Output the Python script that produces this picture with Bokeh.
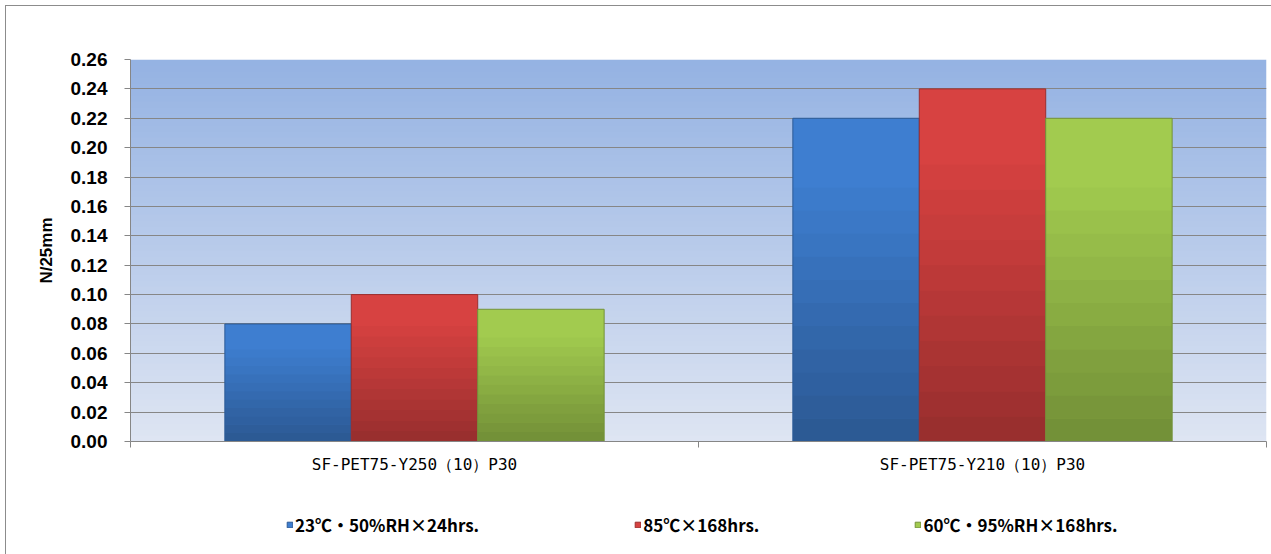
import numpy as np
from bokeh.plotting import figure
from bokeh.layouts import column
from bokeh.models import (ColumnDataSource, Range1d, FixedTicker, Legend, LegendItem,
                          CustomJSTickFormatter, NumeralTickFormatter)
from bokeh.transform import dodge
from bokeh.embed import file_html
from bokeh.resources import INLINE

categories = ["SF-PET75-Y250（10）P30", "SF-PET75-Y210（10）P30"]
series_names = ["23℃・50%RH×24hrs.", "85℃×168hrs.", "60℃・95%RH×168hrs."]
cond_23_50 = [0.08, 0.22]
cond_85 = [0.10, 0.24]
cond_60_95 = [0.09, 0.22]
series_values = [cond_23_50, cond_85, cond_60_95]
series_colors = ["#3e7ed0", "#d74241", "#a2cb4f"]
series_lines = ["#2d5a96", "#9c2f2f", "#74923a"]
y_ticks = [round(0.02 * i, 2) for i in range(14)]

W, H_MAIN, H_LEG = 1265, 484, 64
p = figure(width=W, height=H_MAIN, output_backend="svg", toolbar_location=None,
           x_range=Range1d(0, len(categories)), y_range=Range1d(0, 0.26),
           min_border_left=124, min_border_right=5, min_border_top=53, min_border_bottom=49)
p.outline_line_color = None
p.background_fill_color = "#ffffff"

# plot-area gradient background
n = 64
t = np.linspace(0, 1, n)
bot = np.array([222, 229, 243])
top = np.array([149, 179, 227])
img = np.empty((n, 1), dtype=np.uint32)
view = img.view(dtype=np.uint8).reshape((n, 1, 4))
for k in range(n):
    c = bot + (top - bot) * t[k]
    view[k, 0, 0:3] = c.astype(np.uint8)
    view[k, 0, 3] = 255
p.image_rgba(image=[img], x=0, y=0, dw=len(categories), dh=0.26, level="image")

# bars
xc = [i + 0.5 for i in range(len(categories))]
bw = 0.2226
NSEG = 14
for j, (name, vals) in enumerate(zip(series_names, series_values)):
    src = ColumnDataSource(dict(x=xc, top=vals))
    xs = dodge("x", (j - 1) * bw, range=p.x_range)
    p.vbar(x=xs, top="top", bottom=0, width=bw, source=src,
           fill_color=series_colors[j], line_color=None)
    # shading toward the bottom of each bar (derived from the bar's value)
    sx, sb, st, sa = [], [], [], []
    for xi, v in zip(xc, vals):
        for k in range(NSEG):
            frac = (k + 0.5) / NSEG
            a = 0.30 * max(0.0, 1 - frac / 0.8)
            sx.append(xi)
            sb.append(v * k / NSEG)
            st.append(v * (k + 1) / NSEG)
            sa.append(a)
    shade = ColumnDataSource(dict(x=sx, bottom=sb, top=st, alpha=sa))
    p.vbar(x=dodge("x", (j - 1) * bw, range=p.x_range), top="top", bottom="bottom",
           width=bw, source=shade, fill_color="#000000", fill_alpha="alpha", line_color=None)
    p.vbar(x=xs, top="top", bottom=0, width=bw, source=src,
           fill_color=None, line_color=series_lines[j], line_width=1)

# y axis
yax = p.yaxis[0]
yax.ticker = FixedTicker(ticks=y_ticks)
yax.formatter = NumeralTickFormatter(format="0.00")
yax.axis_line_color = "#868686"
yax.major_tick_line_color = "#868686"
yax.major_tick_out = 6
yax.major_tick_in = 0
yax.minor_tick_line_color = None
yax.major_label_text_font = "Liberation Sans"
yax.major_label_text_font_style = "bold"
yax.major_label_text_font_size = "19px"
yax.major_label_text_color = "#000000"
yax.major_label_standoff = 17
yax.axis_label = "N/25mm"
yax.axis_label_text_font = "Liberation Sans"
yax.axis_label_text_font_style = "bold"
yax.axis_label_text_font_size = "17px"
yax.axis_label_text_color = "#000000"
yax.axis_label_standoff = 12

# x axis
xax = p.xaxis[0]
xax.ticker = FixedTicker(ticks=xc, minor_ticks=list(range(len(categories) + 1)))
xax.formatter = CustomJSTickFormatter(args=dict(labels=categories),
                                      code="return labels[Math.floor(tick)];")
xax.axis_line_color = "#868686"
xax.major_tick_line_color = None
xax.major_tick_out = 0
xax.major_tick_in = 0
xax.minor_tick_line_color = "#868686"
xax.minor_tick_out = 6
xax.minor_tick_in = 0
xax.major_label_text_font = "DejaVu Sans Mono"
xax.major_label_text_font_size = "16px"
xax.major_label_text_color = "#000000"
xax.major_label_standoff = 7

# grid
p.xgrid.grid_line_color = None
p.ygrid.ticker = FixedTicker(ticks=y_ticks)
p.ygrid.grid_line_color = "#868686"
p.ygrid.grid_line_width = 1

# legend strip below the chart
lg = figure(width=W, height=H_LEG, output_backend="svg", toolbar_location=None,
            x_range=Range1d(0, 1), y_range=Range1d(0, 1),
            x_axis_location=None, y_axis_location=None,
            min_border_left=0, min_border_right=0, min_border_top=0, min_border_bottom=0)
lg.outline_line_color = None
lg.xgrid.grid_line_color = None
lg.ygrid.grid_line_color = None
items = []
for j, name in enumerate(series_names):
    r = lg.vbar(x=[np.nan], top=[np.nan], width=0.1, fill_color=series_colors[j],
                line_color=series_lines[j])
    items.append(LegendItem(label=name, renderers=[r]))
legend = Legend(items=items, orientation="horizontal", location=(156, 17),
                glyph_width=7, glyph_height=7, label_standoff=2, spacing=155,
                label_text_font="Noto Sans CJK JP", label_text_font_style="bold",
                label_text_font_size="17px", label_text_color="#000000",
                background_fill_alpha=0, border_line_color=None, margin=0, padding=0)
lg.add_layout(legend, "center")

layout = column(p, lg, spacing=0,
                styles={"border-left": "1px solid #8c8c8c", "border-top": "1px solid #8c8c8c",
                        "margin-left": "5px", "margin-top": "5px"})

open("out.html", "w").write(file_html(layout, INLINE))
